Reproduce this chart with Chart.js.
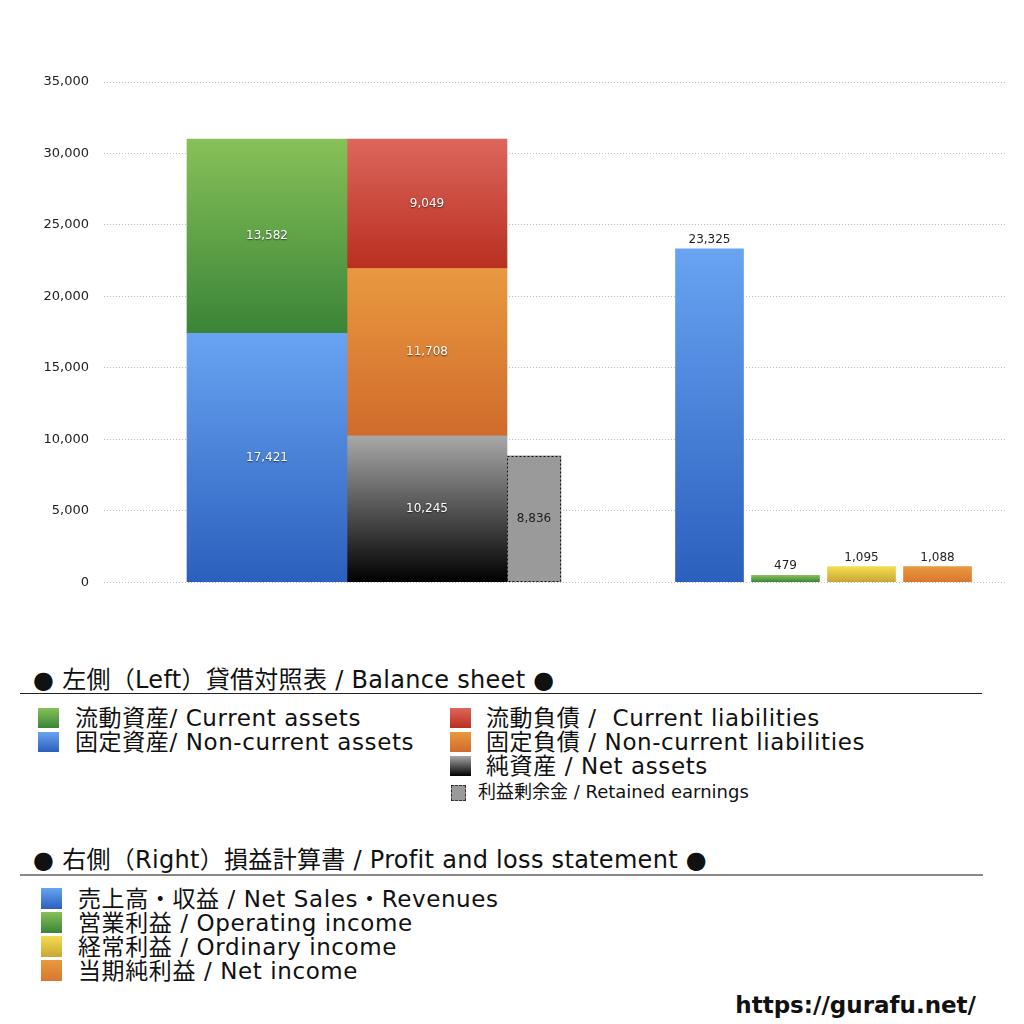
<!DOCTYPE html>
<html>
<head>
<meta charset="utf-8">
<script src="https://cdn.jsdelivr.net/npm/chart.js@4.4.1/dist/chart.umd.min.js"></script>
<style>
  html, body { margin: 0; padding: 0; background: #fff; }
  body { width: 1024px; height: 1024px; position: relative; overflow: hidden;
         font-family: "DejaVu Sans", "Noto Sans CJK JP", sans-serif; color: #111; }
  #wrap { position: absolute; left: 0; top: 0; width: 1024px; height: 605px; }
  .txt { position: absolute; white-space: pre; font-size: 23px; line-height: 24px; letter-spacing: 0.6px; }
  .title { font-size: 24px; letter-spacing: 0.3px; }
  .small { font-size: 18px; line-height: 20px; letter-spacing: 0; }
  .sw { position: absolute; width: 21px; height: 20px; }
  .rule { position: absolute; left: 20px; }
  #url { position: absolute; right: 48px; top: 992px; font-weight: bold; font-size: 23px; line-height: 26px; }
</style>
</head>
<body>
<div id="wrap"><canvas id="bsChart"></canvas></div>
<div id="legend"></div>
<div id="url">https://gurafu.net/</div>
<script>
// y axis
const yMin = 0;
const yMax = 35000;
const yStep = 5000;

// left: balance sheet
const bsCategories = ['資産', '負債・純資産'];
const nonCurrentAssets = [17421, null];
const currentAssets = [13582, null];
const netAssets = [null, 10245];
const nonCurrentLiabilities = [null, 11708];
const currentLiabilities = [null, 9049];
const reCategories = ['利益剰余金'];
const retainedEarnings = [8836];

// right: profit and loss
const plCategories = ['売上高・収益', '営業利益', '経常利益', '当期純利益'];
const plValues = [23325, 479, 1095, 1088];

// legend texts
const bsTitle = '● 左側（Left）貸借対照表 / Balance sheet ●';
const bsLegendLeft = ['流動資産/ Current assets', '固定資産/ Non-current assets'];
const bsLegendRight = ['流動負債 /  Current liabilities', '固定負債 / Non-current liabilities', '純資産 / Net assets'];
const reLegend = '利益剰余金 / Retained earnings';
const plTitle = '● 右側（Right）損益計算書 / Profit and loss statement ●';
const plLegend = ['売上高・収益 / Net Sales・Revenues', '営業利益 / Operating income', '経常利益 / Ordinary income', '当期純利益 / Net income'];

// colours (top, bottom of the vertical gradient)
const BLUE = ['#68a4f2', '#2b5fbd'];
const GREEN = ['#87c158', '#3a8437'];
const RED = ['#dd665c', '#b82f1f'];
const ORANGE = ['#e9993f', '#d06b2c'];
const BLACK = ['#a8a8a8', '#000000'];
const YELLOW = ['#f3dd50', '#c8a633'];
const ORANGE2 = ['#e9993f', '#d8772f'];
const GREY = '#9a9a9a';

const toPoints = arr => arr.map((v, i) => ({x: i, y: v}));

function stackBase(chart, dsIndex, dataIndex) {
  const sets = chart.data.datasets;
  const me = sets[dsIndex];
  let base = 0;
  for (let i = 0; i < dsIndex; i++) {
    const d = sets[i];
    if (d.xAxisID === me.xAxisID && d.stack === me.stack) {
      const p = d.data[dataIndex];
      if (p && p.y != null) base += p.y;
    }
  }
  return base;
}

const fill = pairs => ctx => {
  const [top, bottom] = pairs[(ctx.dataIndex || 0) % pairs.length];
  const chart = ctx.chart;
  const y = chart.scales.y;
  if (ctx.type !== 'data' || !y || !chart.chartArea) return bottom;
  const ds = chart.data.datasets[ctx.datasetIndex];
  const v = ds.data[ctx.dataIndex].y || 0;
  const base = stackBase(chart, ctx.datasetIndex, ctx.dataIndex);
  const g = chart.ctx.createLinearGradient(0, y.getPixelForValue(base + v), 0, y.getPixelForValue(base));
  g.addColorStop(0, top);
  g.addColorStop(1, bottom);
  return g;
};

// value labels and the dashed outline of retained earnings
const valueLabels = {
  id: 'valueLabels',
  afterDatasetsDraw(chart) {
    const ctx = chart.ctx;
    chart.data.datasets.forEach((ds, di) => {
      const meta = chart.getDatasetMeta(di);
      meta.data.forEach((bar, i) => {
        const v = ds.data[i].y;
        if (v == null) return;
        ctx.save();
        if (ds.dashed) {
          const w = bar.width;
          ctx.setLineDash([2, 2]);
          ctx.strokeStyle = '#111';
          ctx.lineWidth = 1;
          ctx.strokeRect(Math.round(bar.x - w / 2) + 0.5, Math.round(bar.y) + 0.5, Math.round(w) - 1, Math.round(bar.base - bar.y) - 1);
          ctx.setLineDash([]);
        }
        ctx.font = '12px "DejaVu Sans"';
        ctx.textAlign = 'center';
        ctx.textBaseline = 'middle';
        const text = v.toLocaleString('en-US');
        if (ds.labelPos === 'above') {
          ctx.fillStyle = '#222';
          ctx.fillText(text, bar.x, bar.y - 9);
        } else {
          if (ds.labelShadow) {
            ctx.shadowColor = 'rgba(0,0,0,0.6)';
            ctx.shadowOffsetY = 1;
            ctx.shadowBlur = 1.5;
          }
          ctx.fillStyle = ds.labelColor;
          ctx.fillText(text, bar.x, (bar.y + bar.base) / 2);
        }
        ctx.restore();
      });
    });
  }
};

const barCommon = { grouped: false, categoryPercentage: 1, barPercentage: 1, borderWidth: 0 };
const hiddenX = (min, max) => ({
  type: 'linear', display: false, stacked: true, offset: false, min: min, max: max,
  grid: { offset: false }, ticks: { stepSize: 1, includeBounds: false }
});

new Chart(document.getElementById('bsChart'), {
  type: 'bar',
  data: {
    datasets: [
      Object.assign({ label: '固定資産', data: toPoints(nonCurrentAssets), xAxisID: 'xBS', stack: 'bs',
        backgroundColor: fill([BLUE]), maxBarThickness: 160, labelColor: '#fff', labelShadow: true }, barCommon),
      Object.assign({ label: '流動資産', data: toPoints(currentAssets), xAxisID: 'xBS', stack: 'bs',
        backgroundColor: fill([GREEN]), maxBarThickness: 160, labelColor: '#fff', labelShadow: true }, barCommon),
      Object.assign({ label: '純資産', data: toPoints(netAssets), xAxisID: 'xBS', stack: 'bs',
        backgroundColor: fill([BLACK]), maxBarThickness: 160, labelColor: '#fff', labelShadow: true }, barCommon),
      Object.assign({ label: '固定負債', data: toPoints(nonCurrentLiabilities), xAxisID: 'xBS', stack: 'bs',
        backgroundColor: fill([ORANGE]), maxBarThickness: 160, labelColor: '#fff', labelShadow: true }, barCommon),
      Object.assign({ label: '流動負債', data: toPoints(currentLiabilities), xAxisID: 'xBS', stack: 'bs',
        backgroundColor: fill([RED]), maxBarThickness: 160, labelColor: '#fff', labelShadow: true }, barCommon),
      Object.assign({ label: reCategories[0], data: toPoints(retainedEarnings), xAxisID: 'xRE', stack: 're',
        backgroundColor: GREY, maxBarThickness: 54, labelColor: '#222', dashed: true }, barCommon),
      Object.assign({ label: '損益計算書', data: toPoints(plValues), xAxisID: 'xPL', stack: 'pl',
        backgroundColor: fill([BLUE, GREEN, YELLOW, ORANGE2]), maxBarThickness: 68, labelPos: 'above' }, barCommon)
    ]
  },
  options: {
    responsive: true,
    maintainAspectRatio: false,
    animation: false,
    layout: { padding: { top: 82, right: 19, bottom: 13, left: 0 } },
    plugins: { legend: { display: false }, tooltip: { enabled: false } },
    scales: {
      xBS: hiddenX(-1.01875, 4.6125),
      xRE: hiddenX(-4.30, 4.71),
      xPL: hiddenX(-7.967, 3.888),
      y: {
        stacked: true,
        min: yMin,
        max: yMax,
        ticks: {
          stepSize: yStep,
          padding: 15,
          color: '#222',
          font: { family: 'DejaVu Sans', size: 13 },
          callback: v => v.toLocaleString('en-US')
        },
        grid: { color: '#bdbdbd', lineWidth: 1, drawTicks: false },
        border: { display: false, dash: [1, 2] },
        afterFit: s => { s.width = 104; }
      }
    }
  },
  plugins: [valueLabels]
});

// legend below the chart
const legend = document.getElementById('legend');
function add(html) { legend.insertAdjacentHTML('beforeend', html); }
const grad = c => `linear-gradient(${c[0]}, ${c[1]})`;

add(`<div class="txt title" style="left:33px;top:668px">${bsTitle}</div>`);
add(`<div class="rule" style="top:693px;width:962px;height:1px;background:#222"></div>`);
[GREEN, BLUE].forEach((c, i) => {
  add(`<div class="sw" style="left:38px;top:${708 + i * 24}px;background:${grad(c)}"></div>`);
  add(`<div class="txt" style="left:75px;top:${706 + i * 24}px">${bsLegendLeft[i]}</div>`);
});
[RED, ORANGE, BLACK].forEach((c, i) => {
  add(`<div class="sw" style="left:450px;top:${708 + i * 24}px;background:${grad(c)}"></div>`);
  add(`<div class="txt" style="left:486px;top:${706 + i * 24}px">${bsLegendRight[i]}</div>`);
});
add(`<div class="sw" style="left:451px;top:785px;width:13px;height:14px;background:${GREY};border:1px dashed #333"></div>`);
add(`<div class="txt small" style="left:478px;top:782px">${reLegend}</div>`);

add(`<div class="txt title" style="left:33px;top:848px">${plTitle}</div>`);
add(`<div class="rule" style="top:874px;width:963px;height:2px;background:#888"></div>`);
[BLUE, GREEN, YELLOW, ORANGE2].forEach((c, i) => {
  add(`<div class="sw" style="left:41px;top:${888 + i * 24}px;height:21px;background:${grad(c)}"></div>`);
  add(`<div class="txt" style="left:78px;top:${887 + i * 24}px">${plLegend[i]}</div>`);
});
</script>
</body>
</html>
